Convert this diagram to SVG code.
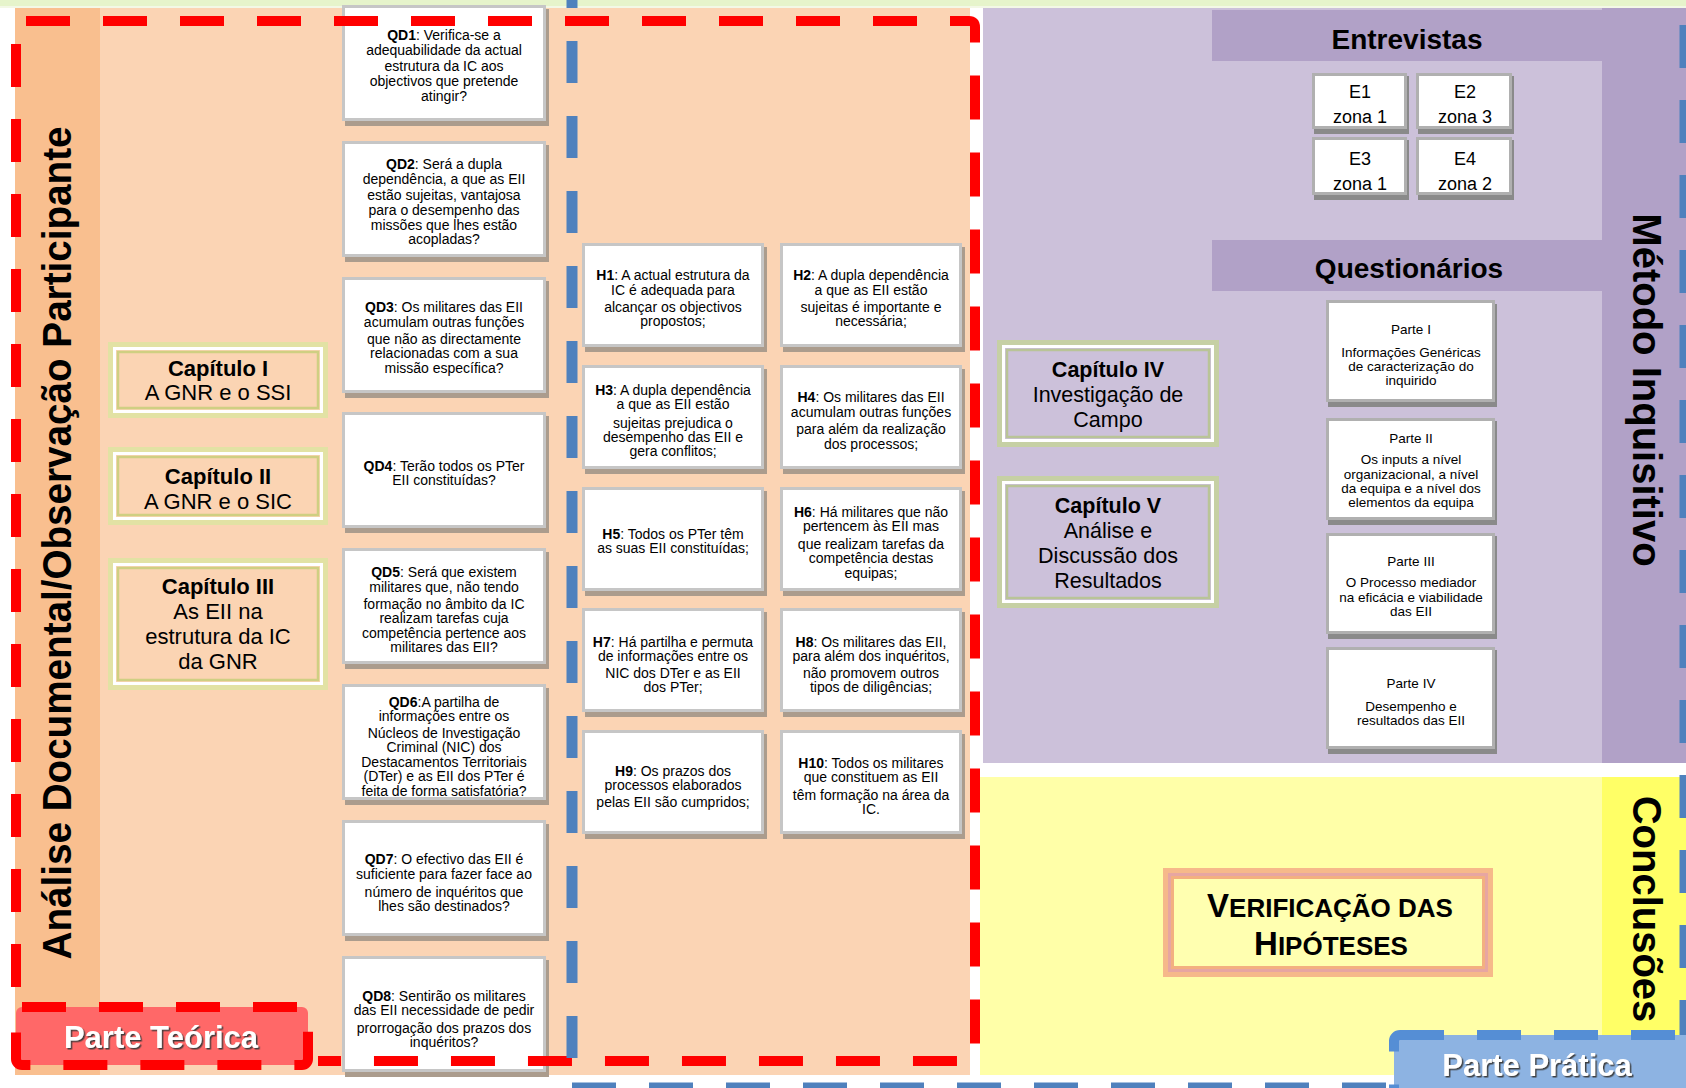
<svg xmlns="http://www.w3.org/2000/svg" width="1686" height="1088" viewBox="0 0 1686 1088">
<defs>
<filter id="ts" x="-10%" y="-40%" width="120%" height="180%"><feDropShadow dx="1.5" dy="1.5" stdDeviation="0.5" flood-color="#3a3a3a" flood-opacity="0.95"/></filter>
</defs>
<style>
text{font-family:'Liberation Sans',Arial,sans-serif;fill:#000;text-anchor:middle}
.s14{font-size:14px}
.s13{font-size:13.5px}
.b{font-weight:bold}
.cap{font-size:22px}
.cap2{font-size:21.5px}
.eb{font-size:18px}
.hd{font-size:28px;font-weight:bold}
.rot{font-size:40px;font-weight:bold}
.wb{fill:#fff;stroke:#c6c6c6;stroke-width:3}
.wl{fill:#fff;stroke:#b0b0b0;stroke-width:3}
.sp{fill:#ab9c8d}
.sl{fill:#8a8a8a}
.rd{fill:none;stroke:#ff0000;stroke-width:10;stroke-dasharray:44 33}
.bl{fill:none;stroke:#4f81bd;stroke-width:11;stroke-dasharray:43 32}
.lbl{font-size:31px;font-weight:bold;fill:#fff;filter:url(#ts)}
.co1{fill:#fbd4b3;stroke:#e2e2a4;stroke-width:5}
.co2{fill:none;stroke:#fff;stroke-width:3}
.co3{fill:none;stroke:#cfcf82;stroke-width:2.5}
.cl1{fill:#ccc1da;stroke:#c6d0a4;stroke-width:5}
.cl3{fill:none;stroke:#b9c497;stroke-width:2.5}
.lt{fill:#ff6868;stroke:#ff0000;stroke-width:10;stroke-dasharray:44 33}
.lp{fill:#8db3e2;stroke:#558ed5;stroke-width:10;stroke-dasharray:44 33}
</style>

<!-- backgrounds -->
<g id="background">
<rect x="0" y="0" width="1686" height="1088" fill="#ffffff"/>
<rect x="0" y="0" width="1686" height="6" fill="#e6f4cb"/>
<rect x="0" y="6" width="1686" height="2" fill="#f3f8e6"/>
<rect x="15" y="8" width="85" height="1067" fill="#f9bf8f"/>
<rect x="100" y="8" width="870" height="1067" fill="#fbd4b4"/>
<rect x="983" y="8" width="703" height="755" fill="#ccc1da"/>
<rect x="1602" y="8" width="84" height="755" fill="#b1a1c7"/>
<rect x="1212" y="10" width="390" height="51" fill="#b1a1c7"/>
<rect x="1212" y="240" width="390" height="51" fill="#b1a1c7"/>
<rect x="980" y="777" width="706" height="298" fill="#ffffa8"/>
<rect x="1602" y="777" width="84" height="298" fill="#ffff66"/>
</g>

<!-- Capítulos (left) -->
<g id="cap1">
<rect class="co1" x="110.5" y="344.5" width="215" height="71"/>
<rect class="co2" x="114.5" y="348.5" width="207" height="63"/>
<rect class="co3" x="118" y="352" width="200" height="56"/>
<text class="cap"><tspan x="218" y="376" class="b">Capítulo I</tspan><tspan x="218" y="400">A GNR e o SSI</tspan></text>
</g>
<g id="cap2">
<rect class="co1" x="110.5" y="449.5" width="215" height="73"/>
<rect class="co2" x="114.5" y="453.5" width="207" height="65"/>
<rect class="co3" x="118" y="457" width="200" height="58"/>
<text class="cap"><tspan x="218" y="484" class="b">Capítulo II</tspan><tspan x="218" y="509">A GNR e o SIC</tspan></text>
</g>
<g id="cap3">
<rect class="co1" x="110.5" y="560.5" width="215" height="127"/>
<rect class="co2" x="114.5" y="564.5" width="207" height="119"/>
<rect class="co3" x="118" y="568" width="200" height="112"/>
<text class="cap"><tspan x="218" y="594" class="b">Capítulo III</tspan><tspan x="218" y="619">As EII na</tspan><tspan x="218" y="644">estrutura da IC</tspan><tspan x="218" y="669">da GNR</tspan></text>
</g>

<!-- QD boxes -->
<g id="qd1">
<rect class="sp" x="345" y="9" width="204" height="117"/>
<rect class="wb" x="343.5" y="6.5" width="201" height="113"/>
<text class="s14"><tspan x="444" y="40"><tspan class="b">QD1</tspan>: Verifica-se a</tspan><tspan x="444" y="55">adequabilidade da actual</tspan><tspan x="444" y="71">estrutura da IC aos</tspan><tspan x="444" y="86">objectivos que pretende</tspan><tspan x="444" y="101">atingir?</tspan></text>
</g>
<g id="qd2">
<rect class="sp" x="345" y="145" width="204" height="117"/>
<rect class="wb" x="343.5" y="142.5" width="201" height="113"/>
<text class="s14"><tspan x="444" y="169"><tspan class="b">QD2</tspan>: Será a dupla</tspan><tspan x="444" y="184">dependência, a que as EII</tspan><tspan x="444" y="200">estão sujeitas, vantajosa</tspan><tspan x="444" y="215">para o desempenho das</tspan><tspan x="444" y="230">missões que lhes estão</tspan><tspan x="444" y="244">acopladas?</tspan></text>
</g>
<g id="qd3">
<rect class="sp" x="345" y="281" width="204" height="117"/>
<rect class="wb" x="343.5" y="278.5" width="201" height="113"/>
<text class="s14"><tspan x="444" y="312"><tspan class="b">QD3</tspan>: Os militares das EII</tspan><tspan x="444" y="327">acumulam outras funções</tspan><tspan x="444" y="344">que não as directamente</tspan><tspan x="444" y="358">relacionadas com a sua</tspan><tspan x="444" y="373">missão específica?</tspan></text>
</g>
<g id="qd4">
<rect class="sp" x="345" y="416" width="204" height="117"/>
<rect class="wb" x="343.5" y="413.5" width="201" height="113"/>
<text class="s14"><tspan x="444" y="471"><tspan class="b">QD4</tspan>: Terão todos os PTer</tspan><tspan x="444" y="485">EII constituídas?</tspan></text>
</g>
<g id="qd5">
<rect class="sp" x="345" y="552" width="204" height="117"/>
<rect class="wb" x="343.5" y="549.5" width="201" height="113"/>
<text class="s14"><tspan x="444" y="577"><tspan class="b">QD5</tspan>: Será que existem</tspan><tspan x="444" y="592">militares que, não tendo</tspan><tspan x="444" y="609">formação no âmbito da IC</tspan><tspan x="444" y="623">realizam tarefas cuja</tspan><tspan x="444" y="638">competência pertence aos</tspan><tspan x="444" y="652">militares das EII?</tspan></text>
</g>
<g id="qd6">
<rect class="sp" x="345" y="688" width="204" height="117"/>
<rect class="wb" x="343.5" y="685.5" width="201" height="113"/>
<text class="s14"><tspan x="444" y="707"><tspan class="b">QD6</tspan>:A partilha de</tspan><tspan x="444" y="721">informações entre os</tspan><tspan x="444" y="738">Núcleos de Investigação</tspan><tspan x="444" y="752">Criminal (NIC) dos</tspan><tspan x="444" y="767">Destacamentos Territoriais</tspan><tspan x="444" y="781">(DTer) e as EII dos PTer é</tspan><tspan x="444" y="796">feita de forma satisfatória?</tspan></text>
</g>
<g id="qd7">
<rect class="sp" x="345" y="824" width="204" height="117"/>
<rect class="wb" x="343.5" y="821.5" width="201" height="113"/>
<text class="s14"><tspan x="444" y="864"><tspan class="b">QD7</tspan>: O efectivo das EII é</tspan><tspan x="444" y="879">suficiente para fazer face ao</tspan><tspan x="444" y="897">número de inquéritos que</tspan><tspan x="444" y="911">lhes são destinados?</tspan></text>
</g>
<g id="qd8">
<rect class="sp" x="345" y="960" width="204" height="117"/>
<rect class="wb" x="343.5" y="957.5" width="201" height="113"/>
<text class="s14"><tspan x="444" y="1001"><tspan class="b">QD8</tspan>: Sentirão os militares</tspan><tspan x="444" y="1015">das EII necessidade de pedir</tspan><tspan x="444" y="1033">prorrogação dos prazos dos</tspan><tspan x="444" y="1047">inquéritos?</tspan></text>
</g>

<!-- H boxes -->
<g id="h1">
<rect class="sp" x="585" y="247" width="182" height="105"/>
<rect class="wb" x="583.5" y="244.5" width="179" height="101"/>
<text class="s14"><tspan x="673" y="280"><tspan class="b">H1</tspan>: A actual estrutura da</tspan><tspan x="673" y="295">IC é adequada para</tspan><tspan x="673" y="312">alcançar os objectivos</tspan><tspan x="673" y="326">propostos;</tspan></text>
</g>
<g id="h2">
<rect class="sp" x="783" y="247" width="182" height="105"/>
<rect class="wb" x="781.5" y="244.5" width="179" height="101"/>
<text class="s14"><tspan x="871" y="280"><tspan class="b">H2</tspan>: A dupla dependência</tspan><tspan x="871" y="295">a que as EII estão</tspan><tspan x="871" y="312">sujeitas é importante e</tspan><tspan x="871" y="326">necessária;</tspan></text>
</g>
<g id="h3">
<rect class="sp" x="585" y="369" width="182" height="105"/>
<rect class="wb" x="583.5" y="366.5" width="179" height="101"/>
<text class="s14"><tspan x="673" y="395"><tspan class="b">H3</tspan>: A dupla dependência</tspan><tspan x="673" y="409">a que as EII estão</tspan><tspan x="673" y="428">sujeitas prejudica o</tspan><tspan x="673" y="442">desempenho das EII e</tspan><tspan x="673" y="456">gera conflitos;</tspan></text>
</g>
<g id="h4">
<rect class="sp" x="783" y="369" width="182" height="105"/>
<rect class="wb" x="781.5" y="366.5" width="179" height="101"/>
<text class="s14"><tspan x="871" y="402"><tspan class="b">H4</tspan>: Os militares das EII</tspan><tspan x="871" y="417">acumulam outras funções</tspan><tspan x="871" y="434">para além da realização</tspan><tspan x="871" y="449">dos processos;</tspan></text>
</g>
<g id="h5">
<rect class="sp" x="585" y="491" width="182" height="105"/>
<rect class="wb" x="583.5" y="488.5" width="179" height="101"/>
<text class="s14"><tspan x="673" y="539"><tspan class="b">H5</tspan>: Todos os PTer têm</tspan><tspan x="673" y="553">as suas EII constituídas;</tspan></text>
</g>
<g id="h6">
<rect class="sp" x="783" y="491" width="182" height="105"/>
<rect class="wb" x="781.5" y="488.5" width="179" height="101"/>
<text class="s14"><tspan x="871" y="517"><tspan class="b">H6</tspan>: Há militares que não</tspan><tspan x="871" y="531">pertencem às EII mas</tspan><tspan x="871" y="549">que realizam tarefas da</tspan><tspan x="871" y="563">competência destas</tspan><tspan x="871" y="578">equipas;</tspan></text>
</g>
<g id="h7">
<rect class="sp" x="585" y="612" width="182" height="105"/>
<rect class="wb" x="583.5" y="609.5" width="179" height="101"/>
<text class="s14"><tspan x="673" y="647"><tspan class="b">H7</tspan>: Há partilha e permuta</tspan><tspan x="673" y="661">de informações entre os</tspan><tspan x="673" y="678">NIC dos DTer e as EII</tspan><tspan x="673" y="692">dos PTer;</tspan></text>
</g>
<g id="h8">
<rect class="sp" x="783" y="612" width="182" height="105"/>
<rect class="wb" x="781.5" y="609.5" width="179" height="101"/>
<text class="s14"><tspan x="871" y="647"><tspan class="b">H8</tspan>: Os militares das EII,</tspan><tspan x="871" y="661">para além dos inquéritos,</tspan><tspan x="871" y="678">não promovem outros</tspan><tspan x="871" y="692">tipos de diligências;</tspan></text>
</g>
<g id="h9">
<rect class="sp" x="585" y="734" width="182" height="105"/>
<rect class="wb" x="583.5" y="731.5" width="179" height="101"/>
<text class="s14"><tspan x="673" y="776"><tspan class="b">H9</tspan>: Os prazos dos</tspan><tspan x="673" y="790">processos elaborados</tspan><tspan x="673" y="807">pelas EII são cumpridos;</tspan></text>
</g>
<g id="h10">
<rect class="sp" x="783" y="734" width="182" height="105"/>
<rect class="wb" x="781.5" y="731.5" width="179" height="101"/>
<text class="s14"><tspan x="871" y="768"><tspan class="b">H10</tspan>: Todos os militares</tspan><tspan x="871" y="782">que constituem as EII</tspan><tspan x="871" y="800">têm formação na área da</tspan><tspan x="871" y="814">IC.</tspan></text>
</g>

<!-- Capítulos (right) -->
<g id="cap4">
<rect class="cl1" x="999.5" y="342.5" width="217" height="102"/>
<rect class="co2" x="1003.5" y="346.5" width="209" height="94"/>
<rect class="cl3" x="1007" y="350" width="202" height="87"/>
<text class="cap2"><tspan x="1108" y="377" class="b">Capítulo IV</tspan><tspan x="1108" y="402">Investigação de</tspan><tspan x="1108" y="427">Campo</tspan></text>
</g>
<g id="cap5">
<rect class="cl1" x="999.5" y="478.5" width="217" height="127"/>
<rect class="co2" x="1003.5" y="482.5" width="209" height="119"/>
<rect class="cl3" x="1007" y="486" width="202" height="112"/>
<text class="cap2"><tspan x="1108" y="513" class="b">Capítulo V</tspan><tspan x="1108" y="538">Análise e</tspan><tspan x="1108" y="563">Discussão dos</tspan><tspan x="1108" y="588">Resultados</tspan></text>
</g>

<!-- Entrevistas -->
<g id="entrevistas">
<text class="hd" x="1407" y="49">Entrevistas</text>
</g>
<g id="e1">
<rect class="sl" x="1314" y="76" width="95" height="58"/>
<rect class="wl" x="1313.5" y="74.5" width="92" height="53"/>
<text class="eb"><tspan x="1360" y="98">E1</tspan><tspan x="1360" y="123">zona 1</tspan></text>
</g>
<g id="e2">
<rect class="sl" x="1418" y="76" width="96" height="58"/>
<rect class="wl" x="1417.5" y="74.5" width="93" height="53"/>
<text class="eb"><tspan x="1465" y="98">E2</tspan><tspan x="1465" y="123">zona 3</tspan></text>
</g>
<g id="e3">
<rect class="sl" x="1314" y="140" width="95" height="60"/>
<rect class="wl" x="1313.5" y="138.5" width="92" height="55"/>
<text class="eb"><tspan x="1360" y="165">E3</tspan><tspan x="1360" y="190">zona 1</tspan></text>
</g>
<g id="e4">
<rect class="sl" x="1418" y="140" width="96" height="60"/>
<rect class="wl" x="1417.5" y="138.5" width="93" height="55"/>
<text class="eb"><tspan x="1465" y="165">E4</tspan><tspan x="1465" y="190">zona 2</tspan></text>
</g>

<!-- Questionários -->
<g id="questionarios">
<text class="hd" x="1409" y="278">Questionários</text>
</g>
<g id="parte1">
<rect class="sl" x="1328" y="304" width="169" height="103"/>
<rect class="wl" x="1327.5" y="301.5" width="166" height="99"/>
<text class="s13"><tspan x="1411" y="334">Parte I</tspan><tspan x="1411" y="357">Informações Genéricas</tspan><tspan x="1411" y="371">de caracterização do</tspan><tspan x="1411" y="385">inquirido</tspan></text>
</g>
<g id="parte2">
<rect class="sl" x="1328" y="421" width="169" height="104"/>
<rect class="wl" x="1327.5" y="419.5" width="166" height="99"/>
<text class="s13"><tspan x="1411" y="443">Parte II</tspan><tspan x="1411" y="464">Os inputs a nível</tspan><tspan x="1411" y="479">organizacional, a nível</tspan><tspan x="1411" y="493">da equipa e a nível dos</tspan><tspan x="1411" y="507">elementos da equipa</tspan></text>
</g>
<g id="parte3">
<rect class="sl" x="1328" y="536" width="169" height="103"/>
<rect class="wl" x="1327.5" y="534.5" width="166" height="98"/>
<text class="s13"><tspan x="1411" y="566">Parte III</tspan><tspan x="1411" y="587">O Processo mediador</tspan><tspan x="1411" y="602">na eficácia e viabilidade</tspan><tspan x="1411" y="616">das EII</tspan></text>
</g>
<g id="parte4">
<rect class="sl" x="1328" y="650" width="169" height="104"/>
<rect class="wl" x="1327.5" y="648.5" width="166" height="99"/>
<text class="s13"><tspan x="1411" y="688">Parte IV</tspan><tspan x="1411" y="711">Desempenho e</tspan><tspan x="1411" y="725">resultados das EII</tspan></text>
</g>

<!-- Verificação das Hipóteses -->
<g id="verificacao">
<rect x="1163" y="868" width="330" height="109" fill="#f6b98a"/>
<rect x="1169.5" y="874.5" width="317" height="96" fill="none" stroke="#e7a6a2" stroke-width="3"/>
<rect x="1172.5" y="877.5" width="311" height="90" fill="#ffffb0" stroke="#f3b080" stroke-width="3"/>
<text class="b"><tspan x="1330" y="917"><tspan font-size="33">V</tspan><tspan font-size="26">ERIFICAÇÃO  DAS</tspan></tspan><tspan x="1331" y="955"><tspan font-size="33">H</tspan><tspan font-size="26">IPÓTESES</tspan></tspan></text>
</g>

<!-- side titles -->
<g id="titulo-analise">
<text class="b" font-size="41" textLength="833" lengthAdjust="spacingAndGlyphs" transform="translate(71,543) rotate(-90)" x="0" y="0">Análise Documental/Observação Participante</text>
</g>
<g id="titulo-metodo">
<text class="rot" transform="translate(1633,390) rotate(90)" x="0" y="0">Método Inquisitivo</text>
</g>
<g id="titulo-conclusoes">
<text class="rot" transform="translate(1633,909) rotate(90)" x="0" y="0">Conclusões</text>
</g>

<!-- dashed frames -->
<g id="connectors">
<path class="rd" d="M26,21 H969 Q975,21 975,27 V1055 Q975,1061 969,1061 H318"/>
<path class="rd" d="M16,44 V1000" style="stroke-dasharray:43 32"/>
<path class="bl" d="M572,-34 V1062" style="stroke-dasharray:42 33"/>
<path class="bl" d="M572,1088 H1400" style="stroke-dasharray:44 33"/>
<path class="bl" d="M1685,25 V1040"/>
</g>

<!-- labels -->
<g id="parte-teorica">
<rect class="lt" x="16" y="1007" width="292" height="58" rx="6"/>
<text class="lbl" x="161" y="1048">Parte Teórica</text>
</g>
<g id="parte-pratica">
<rect class="lp" x="1394" y="1035" width="300" height="62" rx="6"/>
<text class="lbl" font-size="32" x="1537" y="1076">Parte Prática</text>
</g>
</svg>
